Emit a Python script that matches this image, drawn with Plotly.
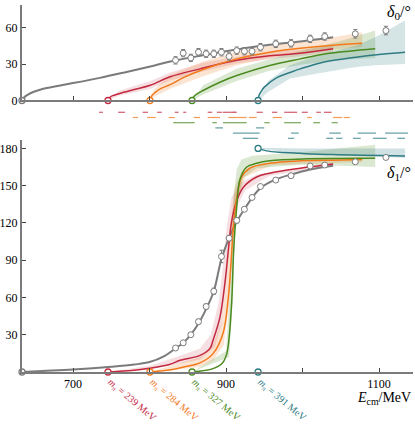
import plotly.graph_objects as go
from plotly.subplots import make_subplots

# energies (MeV) of the lattice-data points, shared by both panels
pts_E = [834, 844, 854, 864, 874, 884, 894, 904, 914, 924, 934, 945, 965, 985, 1010, 1029, 1069, 1109]
d0_pts = [33, 38.9, 35, 39.7, 38.4, 38.4, 39.7, 36.2, 41, 40.5, 40.5, 43.8, 46.6, 47, 50.7, 52.6, 54.8, 57.5]
d0_err = [3, 3, 3, 3, 3, 3, 3, 3, 3, 3, 3, 3, 3, 3, 3, 3, 3.5, 3.5]
d1_pts = [19.3, 23.5, 30, 40.5, 52.7, 65, 93, 107.7, 122, 131, 140.5, 149.3, 154.5, 158, 165.8, 166.6, 169.2, 172.7]
d1_err = [1, 1, 1.5, 2, 2, 2.5, 5, 2, 2, 1.5, 1.5, 1, 1, 1, 1, 1, 1, 1]

# thresholds (open circles on the axes)
thr_gray = 633.3
thr = {"239": 745.7, "284": 800.6, "327": 855.6, "391": 941.9}

# delta_0 curves
gray_E0 = [633.3, 636, 641, 648, 660, 680, 700, 735, 770, 801, 827, 866, 914, 957, 997, 1040]
gray_d0 = [0, 2.5, 4.8, 7, 9.5, 12, 14.3, 18.6, 23.5, 28, 32, 36.7, 41.9, 45.8, 48.5, 52]
red_E0 = [745.7, 748, 752, 761, 780, 801, 827, 866, 914, 957, 997, 1040]
red_d0 = [0, 2.5, 4, 5.8, 9, 12.5, 19.5, 26, 33, 36.7, 38.9, 42.5]
orange_E0 = [800.6, 803, 807, 814, 827, 845, 870, 914, 957, 997, 1040, 1078]
orange_d0 = [0, 4, 6.5, 9.6, 13, 19, 25.5, 34.2, 39.7, 43, 45.5, 47]
green_E0 = [855.6, 857, 860, 870, 892, 914, 957, 997, 1027, 1060, 1095]
green_d0 = [0, 2.5, 4.5, 8.2, 15, 20.5, 28.8, 34.2, 38, 40.5, 42.5]
teal_E0 = [941.9, 943, 946, 950, 967, 983.6, 997, 1027, 1070, 1100, 1134]
teal_d0 = [0, 4, 7.5, 11, 19, 23, 26, 31.5, 35.6, 37.8, 39.7]

# delta_0 bands
red_b0_E = [745.7, 760, 801, 827, 870, 914, 957, 1000, 1040]
red_b0_hi = [0, 8, 16, 23, 31, 36, 40, 42, 45]
red_b0_lo = [0, 4, 9.5, 16.5, 24, 30.5, 34, 36.5, 40]
orange_b0_E = [800.6, 806, 827, 870, 914, 957, 1000, 1040, 1078]
orange_b0_hi = [0, 9, 21, 32, 40, 45, 49, 52, 56]
orange_b0_lo = [0, 3, 9.6, 20, 29, 35, 39, 42, 44]
green_b0_E = [855.6, 870, 914, 957, 1000, 1050, 1095]
green_b0_hi = [0, 12.5, 26, 34, 41, 49, 57.5]
green_b0_lo = [0, 5, 16, 24.5, 29.5, 33.5, 35]
teal_b0_E = [941.9, 955, 983.6, 1027, 1070, 1095, 1134]
teal_b0_hi = [0, 16, 29, 38.5, 45, 52, 65.7]
teal_b0_lo = [0, 7, 18, 23, 27.5, 29, 30]

# delta_1 curves
gray_E1 = [633.3, 660, 700, 750, 780, 800, 820, 834, 845, 854, 865, 875, 884, 894, 904, 914, 925, 935, 945, 965, 985, 1010, 1040]
gray_d1 = [0, 0.8, 2, 4.2, 6, 8, 13, 19, 24, 30, 40, 52, 65, 91, 108, 121, 132, 141, 148, 155, 159, 163, 166]
red_E1 = [745.7, 780, 800, 826, 840, 866, 879, 883, 892, 899, 903, 907, 914, 923, 940, 957, 997, 1040]
red_d1 = [0, 1.5, 3, 6, 9.4, 13.4, 19, 25.5, 44, 74, 98, 120, 138, 149, 157, 160, 164, 167.4]
orange_E1 = [800.6, 830, 845, 866, 883, 896, 903, 907, 910, 915, 920.5, 931, 957, 997, 1040, 1078]
orange_d1 = [0, 2, 4, 7.3, 14.8, 31, 60, 92.7, 119.6, 143.7, 157, 164, 168, 170, 170.5, 171]
green_E1 = [855.6, 883, 895, 901, 907, 910, 914, 918, 927, 940, 957, 1000, 1095]
green_d1 = [0, 2.7, 7, 14.8, 52, 98, 133, 154.5, 165, 168, 170, 171.5, 172]
teal_E1 = [941.9, 953, 970, 997, 1040, 1134]
teal_d1 = [180, 178, 176.8, 176, 175, 173.8]

# delta_1 bands (upper / lower edges)
red_b1_upE = [745.7, 800, 840, 866, 880, 890, 896, 901, 907, 918, 940, 1040]
red_b1_up = [0, 5, 13, 19, 30, 55, 85, 118, 140, 152, 159, 168.5]
red_b1_loE = [745.7, 800, 840, 866, 885, 894, 901, 905, 912, 925, 957, 1040]
red_b1_lo = [0, 2, 7, 10, 20, 38, 75, 102, 130, 146, 158, 166]
orange_b1_upE = [800.6, 840, 866, 883, 894, 900, 905, 911, 920, 960, 1078]
orange_b1_up = [0, 7, 12, 22, 40, 70, 115, 148, 161, 169, 173]
orange_b1_loE = [800.6, 866, 883, 897, 904, 909, 914, 925, 960, 1078]
orange_b1_lo = [0, 4, 9, 22, 55, 105, 135, 157, 166.5, 169]
green_b1_upE = [855.6, 900, 904, 907, 910, 914, 920, 935, 1000, 1095]
green_b1_up = [0, 17, 55, 105, 142, 163, 171, 174, 177, 183]
green_b1_loE = [855.6, 904, 908, 911, 915, 922, 940, 1000, 1095]
green_b1_lo = [0, 12, 50, 100, 135, 156, 164, 167, 165]
teal_b1_upE = [941.9, 1000, 1134]
teal_b1_up = [180.5, 180, 180]
teal_b1_loE = [941.9, 1000, 1134]
teal_b1_lo = [180, 175.5, 172.5]

# finite-volume levels (MeV intervals), one list per row
lev_red = [(734, 739), (759, 768), (791, 798), (810, 816), (833, 838), (844, 848), (876, 882), (888, 895),
           (896, 912), (909, 914), (940, 948), (960, 967), (976, 993), (999, 1007), (1018, 1024), (1028, 1038)]
lev_orange = [(778, 785), (797, 808), (825, 833), (858, 866), (876, 892), (903, 927), (930, 940), (961, 973),
              (1006, 1012), (1040, 1052), (1054, 1062)]
lev_green = [(831, 859), (882, 888), (896, 927), (950, 957), (976, 998), (1014, 1023), (1038, 1046)]
lev_teal1 = [(886, 896), (939, 950)]
lev_teal2 = [(909, 944), (985, 995), (1035, 1050), (1072, 1096), (1108, 1138)]
lev_teal3 = [(922, 942), (981, 989), (1031, 1040), (1044, 1052), (1066, 1076), (1092, 1110), (1124, 1134)]
limit_deg = 180

GRAY = "#7b7b7b"
RED = "#c3283f"
ORANGE = "#f27a1c"
GREEN = "#4a8a1f"
TEAL = "#2f7c84"
FONT = "Liberation Serif"

fig = make_subplots(rows=3, cols=1, vertical_spacing=0)


def band(E_up, up, E_lo, lo, color, row):
    fig.add_trace(go.Scatter(x=list(E_up) + list(E_lo)[::-1], y=list(up) + list(lo)[::-1],
                             fill="toself", fillcolor=color, line=dict(width=0), mode="lines",
                             hoverinfo="skip", showlegend=False), row=row, col=1)


def curve(E, d, color, width, row):
    fig.add_trace(go.Scatter(x=E, y=d, mode="lines", line=dict(color=color, width=width, shape="spline"),
                             showlegend=False), row=row, col=1)


def dot(x, y, color, row):
    fig.add_trace(go.Scatter(x=[x], y=[y], mode="markers", cliponaxis=False,
                             marker=dict(symbol="circle", size=6, color="white", line=dict(color=color, width=1.3)),
                             showlegend=False), row=row, col=1)


# ---- top panel: delta_0
band(red_b0_E, red_b0_hi, red_b0_E, red_b0_lo, "rgba(195,40,63,0.15)", 1)
band(orange_b0_E, orange_b0_hi, orange_b0_E, orange_b0_lo, "rgba(242,122,28,0.2)", 1)
band(green_b0_E, green_b0_hi, green_b0_E, green_b0_lo, "rgba(74,138,31,0.2)", 1)
band(teal_b0_E, teal_b0_hi, teal_b0_E, teal_b0_lo, "rgba(47,124,132,0.2)", 1)
curve(gray_E0, gray_d0, GRAY, 2, 1)
curve(red_E0, red_d0, RED, 1.5, 1)
curve(orange_E0, orange_d0, ORANGE, 1.5, 1)
curve(green_E0, green_d0, GREEN, 1.5, 1)
curve(teal_E0, teal_d0, TEAL, 1.5, 1)
fig.add_trace(go.Scatter(x=pts_E, y=d0_pts, mode="markers",
                         error_y=dict(type="data", array=d0_err, color=GRAY, thickness=1, width=2),
                         marker=dict(size=6, color="white", line=dict(color=GRAY, width=1)),
                         showlegend=False), row=1, col=1)
dot(thr_gray, 0, GRAY, 1)
for key, c in zip(thr, [RED, ORANGE, GREEN, TEAL]):
    dot(thr[key], 0, c, 1)

# ---- middle strip: energy levels
rows = [(lev_red, RED, 1), (lev_orange, ORANGE, 2), (lev_green, GREEN, 3),
        (lev_teal1, TEAL, 4), (lev_teal2, TEAL, 5), (lev_teal3, TEAL, 6)]
for levels, c, r in rows:
    xs, ys = [], []
    for lo, hi in levels:
        xs += [lo, hi, None]
        ys += [r, r, None]
    fig.add_trace(go.Scatter(x=xs, y=ys, mode="lines", line=dict(color=c, width=1.2),
                             opacity=0.75, showlegend=False), row=2, col=1)

# ---- bottom panel: delta_1
fig.add_hline(y=limit_deg, line=dict(color="#555555", width=1.3, dash="dash"), row=3, col=1)
band(red_b1_upE, red_b1_up, red_b1_loE, red_b1_lo, "rgba(195,40,63,0.15)", 3)
band(orange_b1_upE, orange_b1_up, orange_b1_loE, orange_b1_lo, "rgba(242,122,28,0.2)", 3)
band(green_b1_upE, green_b1_up, green_b1_loE, green_b1_lo, "rgba(74,138,31,0.2)", 3)
band(teal_b1_upE, teal_b1_up, teal_b1_loE, teal_b1_lo, "rgba(47,124,132,0.22)", 3)
curve(gray_E1, gray_d1, GRAY, 2, 3)
curve(red_E1, red_d1, RED, 1.5, 3)
curve(orange_E1, orange_d1, ORANGE, 1.5, 3)
curve(green_E1, green_d1, GREEN, 1.5, 3)
curve(teal_E1, teal_d1, TEAL, 1.5, 3)
fig.add_trace(go.Scatter(x=pts_E, y=d1_pts, mode="markers",
                         error_y=dict(type="data", array=d1_err, color=GRAY, thickness=1, width=2),
                         marker=dict(size=6, color="white", line=dict(color=GRAY, width=1)),
                         showlegend=False), row=3, col=1)
dot(thr_gray, 0, GRAY, 3)
for key, c in zip(thr, [RED, ORANGE, GREEN, TEAL]):
    dot(thr[key], 0, c, 3)
dot(thr["391"], limit_deg, TEAL, 3)

# pion-mass labels, running down-right from each threshold circle
for key, c in zip(thr, [RED, ORANGE, GREEN, TEAL]):
    fig.add_annotation(x=thr[key], y=0, xref="x3", yref="y3", text=f"<i>m</i><sub>π</sub> = {key} MeV",
                       textangle=40, showarrow=False, xanchor="left", yanchor="top", xshift=-6, yshift=-1,
                       font=dict(family=FONT, size=10, color=c))

axis_x = dict(range=[633.3, 1144.4], showgrid=False, zeroline=False, showline=True, linecolor=GRAY,
              linewidth=2, ticks="inside", ticklen=4, tickcolor="#444444", automargin=False,
              tickvals=[700, 900, 1100],
              minor=dict(ticks="inside", ticklen=4, tickcolor="#444444", tickvals=[800, 1000]))
fig.update_xaxes(axis_x)
fig.update_xaxes(showticklabels=False, row=1, col=1)
fig.update_xaxes(visible=False, row=2, col=1)
fig.update_xaxes(ticktext=["700", "900", "1100"], row=3, col=1)

axis_y = dict(showgrid=False, zeroline=False, showline=True, linecolor=GRAY, linewidth=2,
              ticks="inside", ticklen=4, tickcolor="#444444", automargin=False)
fig.update_yaxes(axis_y)
fig.update_yaxes(range=[0, 78.5], tickvals=[0, 30, 60], domain=[0.7398, 1], row=1, col=1)
fig.update_yaxes(visible=False, range=[6.71, -0.4], domain=[0.6267, 0.7275], row=2, col=1)
fig.update_yaxes(range=[0, 186.7], tickvals=[30, 60, 90, 120, 150, 180], domain=[0, 0.632], row=3, col=1)

fig.add_annotation(x=1, y=1.0, xref="paper", yref="paper", text="<i>δ</i><sub>0</sub>/°", showarrow=False,
                   xanchor="right", yanchor="top", yshift=4, font=dict(family=FONT, size=16, color="black"))
fig.add_annotation(x=1, y=160, xref="paper", yref="y3", text="<i>δ</i><sub>1</sub>/°", showarrow=False,
                   xanchor="right", yanchor="middle", font=dict(family=FONT, size=16, color="black"))
fig.add_annotation(x=1, y=0, xref="paper", yref="paper", text="<i>E</i><sub>cm</sub>/MeV", showarrow=False,
                   xanchor="right", yanchor="top", yshift=-16, font=dict(family=FONT, size=14, color="black"))

fig.update_layout(width=415, height=424, margin=dict(l=22, r=2, t=5, b=52, autoexpand=False),
                  plot_bgcolor="white", paper_bgcolor="white",
                  font=dict(family=FONT, size=12, color="black"), showlegend=False)

fig.write_html("out.html", config={"displayModeBar": False},
               post_script="document.body.style.margin='0px';")
